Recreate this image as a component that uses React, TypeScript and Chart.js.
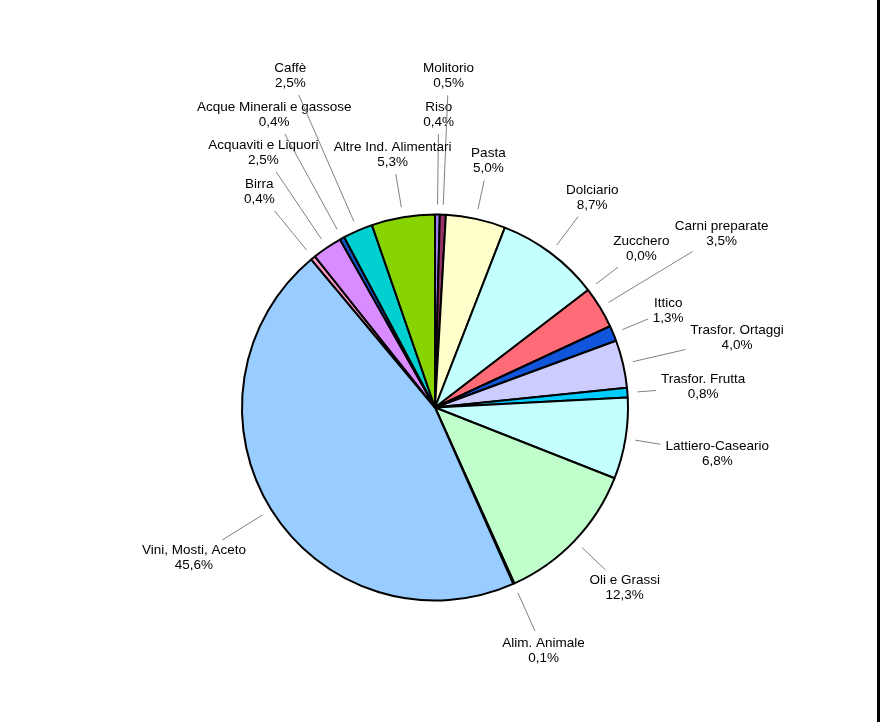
import React, { useEffect, useRef } from "react";
import { Chart, registerables } from "chart.js";

Chart.register(...registerables);

const categories = [
  "Riso",
  "Molitorio",
  "Pasta",
  "Dolciario",
  "Zucchero",
  "Carni preparate",
  "Ittico",
  "Trasfor. Ortaggi",
  "Trasfor. Frutta",
  "Lattiero-Caseario",
  "Oli e Grassi",
  "Alim. Animale",
  "Vini, Mosti, Aceto",
  "Birra",
  "Acquaviti e Liquori",
  "Acque Minerali e gassose",
  "Caffè",
  "Altre Ind. Alimentari",
];

const shares = [0.4, 0.5, 5.0, 8.7, 0.0, 3.5, 1.3, 4.0, 0.8, 6.8, 12.3, 0.1, 45.6, 0.4, 2.5, 0.4, 2.5, 5.3];

const sliceColors = [
  "#9B80EE",
  "#993366",
  "#FFFFCC",
  "#C4FFFF",
  "#FFCC99",
  "#FF6C78",
  "#1155DD",
  "#CCCCFF",
  "#00CCFF",
  "#C4FFFF",
  "#C0FFCC",
  "#666699",
  "#99CCFF",
  "#FF99CC",
  "#D88CFF",
  "#1155CC",
  "#00D0D0",
  "#88D400",
];

// label layout: distance of each label's centre beyond the pie's edge (px)
const labelOffset = [100, 139, 59, 69, 67, 142, 59.5, 117, 76, 93, 69, 73, 91, 85, 114, 141, 169, 63.5];

const FONT = "13.5px 'Liberation Sans', Arial, sans-serif";

const fmt = (v: number) => v.toFixed(1).replace(".", ",") + "%";

const leaderLabels = {
  id: "leaderLabels",
  afterDatasetsDraw(chart: any) {
    const ctx = chart.ctx;
    const meta = chart.getDatasetMeta(0);
    ctx.save();
    ctx.font = FONT;
    ctx.textAlign = "center";
    ctx.textBaseline = "middle";
    meta.data.forEach((arc: any, i: number) => {
      const p = arc.getProps(["x", "y", "startAngle", "endAngle", "outerRadius"], true);
      const mid = (p.startAngle + p.endAngle) / 2;
      const c = Math.cos(mid);
      const s = Math.sin(mid);
      const R = p.outerRadius;
      const D = R + labelOffset[i];
      const tx = p.x + c * D;
      const ty = p.y + s * D;
      const l1 = categories[i];
      const l2 = fmt(shares[i]);
      const w = Math.max(ctx.measureText(l1).width, ctx.measureText(l2).width);
      const hw = w / 2 + 1;
      const hh = 15.5;
      const tEdge = Math.min(
        Math.abs(c) > 1e-6 ? hw / Math.abs(c) : Infinity,
        Math.abs(s) > 1e-6 ? hh / Math.abs(s) : Infinity
      );
      const r0 = R + 10;
      const r1 = D - tEdge - 4;
      if (r1 > r0) {
        ctx.strokeStyle = "#808080";
        ctx.lineWidth = 1;
        ctx.beginPath();
        ctx.moveTo(p.x + c * r0, p.y + s * r0);
        ctx.lineTo(p.x + c * r1, p.y + s * r1);
        ctx.stroke();
      }
      ctx.fillStyle = "#000000";
      ctx.fillText(l1, tx, ty - 7.5);
      ctx.fillText(l2, tx, ty + 7.5);
    });
    ctx.restore();
  },
};

export default function App() {
  const ref = useRef<HTMLCanvasElement | null>(null);
  useEffect(() => {
    if (!ref.current) return;
    const chart = new Chart(ref.current, {
      type: "pie",
      data: {
        labels: categories,
        datasets: [
          {
            data: shares,
            backgroundColor: sliceColors,
            borderColor: "#000000",
            borderWidth: 2,
          },
        ],
      },
      options: {
        responsive: false,
        animation: false,
        radius: 193,
        layout: { padding: { left: 100, right: 107, top: 150, bottom: 57 } },
        plugins: {
          legend: { display: false },
          tooltip: { enabled: false },
        },
      } as any,
      plugins: [leaderLabels],
    });
    return () => chart.destroy();
  }, []);
  return (
    <div
      style={{
        position: "fixed",
        left: 0,
        top: 0,
        width: 880,
        height: 722,
        overflow: "hidden",
        background: "#ffffff",
      }}
    >
      <div style={{ width: 877, height: 722, borderRight: "3px solid #000" }}>
        <canvas ref={ref} width={877} height={722} style={{ display: "block" }} />
      </div>
    </div>
  );
}
